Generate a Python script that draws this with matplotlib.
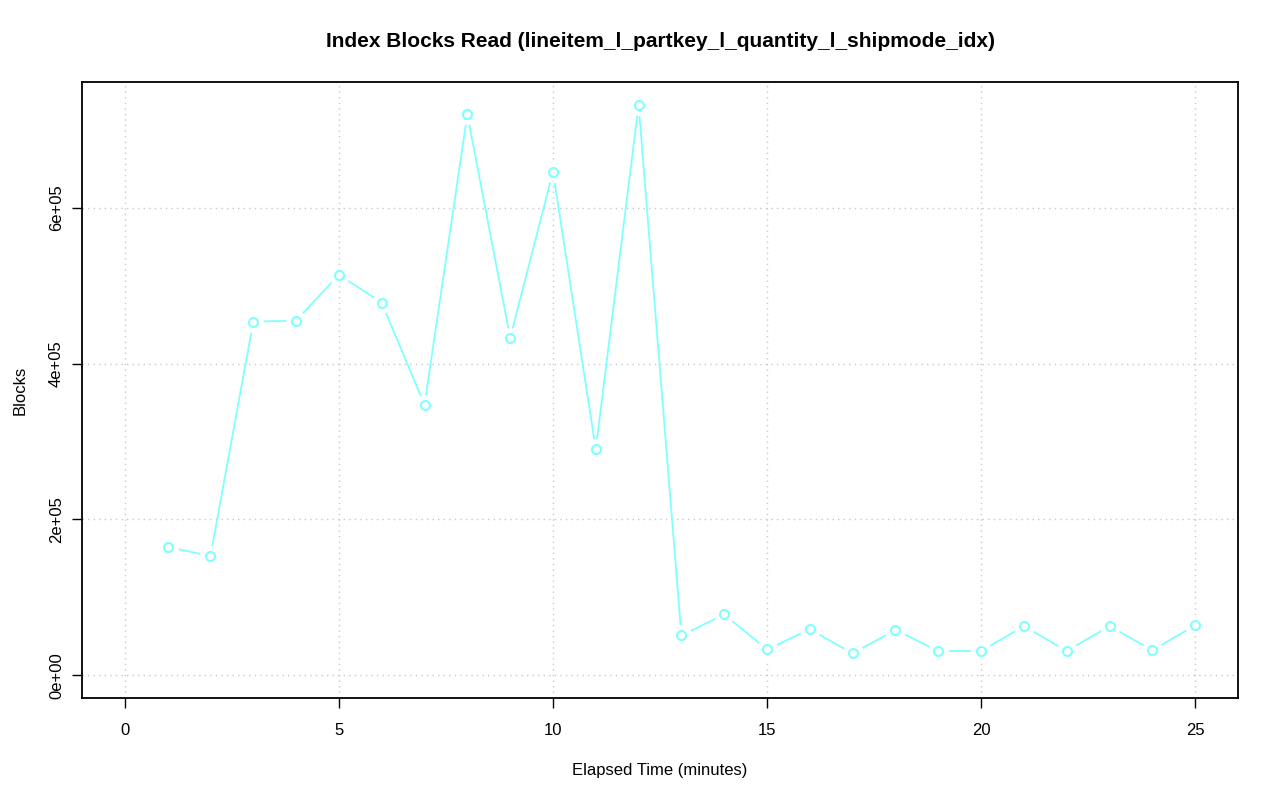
import matplotlib
matplotlib.use("Agg")
import matplotlib.pyplot as plt

minutes = list(range(1, 26))
blocks = [165000, 152600, 453800, 455000, 514000, 478000, 347000, 720000, 433000, 646000,
          290000, 732000, 51000, 78000, 33000, 59000, 28000, 58000, 31000, 31000,
          63000, 31000, 63000, 32000, 64000]
xticks = [0, 5, 10, 15, 20, 25]
yticks = [0, 200000, 400000, 600000]
ytick_labels = ["0e+00", "2e+05", "4e+05", "6e+05"]

plt.rcParams['font.family'] = ['Liberation Sans', 'DejaVu Sans']
fig = plt.figure(figsize=(12.8, 8.01), dpi=100)
ax = fig.add_axes([82/1280, 1 - 698/801, (1238-82)/1280, (698-82)/801])

color = "#80FFFF"
ax.plot(minutes, blocks, color=color, lw=1.3, zorder=2)
ax.plot(minutes, blocks, 'o', ms=15, mfc='white', mec='none', zorder=3)
ax.plot(minutes, blocks, 'o', ms=6.5, mfc='white', mec=color, mew=1.5, zorder=4)

ax.set_xlim(-1, 26)
ymax = max(blocks)
pad = 0.04 * ymax
ax.set_ylim(-pad, ymax + pad)

ax.set_xticks(xticks)
ax.set_xticklabels([str(t) for t in xticks], fontsize=12)
ax.set_yticks(yticks)
ax.set_yticklabels(ytick_labels, fontsize=12, rotation=90, va='center')
ax.tick_params(direction='out', length=7, width=1)
ax.tick_params(axis='x', pad=11)
ax.tick_params(axis='y', pad=6)
ax.grid(True, color='#c8c8c8', linestyle=(0, (1, 3)), lw=1, zorder=0)
ax.set_axisbelow(True)
for s in ax.spines.values():
    s.set_linewidth(1.3)

ax.set_title("Index Blocks Read (lineitem_l_partkey_l_quantity_l_shipmode_idx)",
             fontsize=15, fontweight='bold', pad=25)
ax.set_xlabel("Elapsed Time (minutes)", fontsize=12, labelpad=18)
ax.set_ylabel("Blocks", fontsize=12, labelpad=15)

fig.savefig("out.png", dpi=100)
